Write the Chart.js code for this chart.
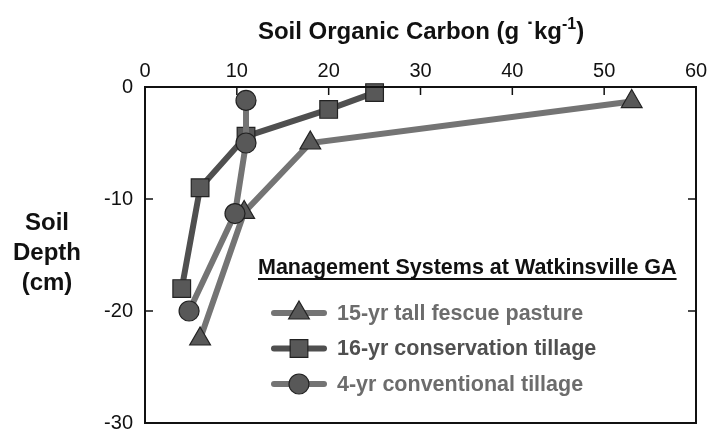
<!DOCTYPE html>
<html lang="en">
<head>
  <meta charset="UTF-8">
  <script src="https://cdn.jsdelivr.net/npm/chart.js"></script>
  <title>Soil Organic Carbon</title>
  <style>
    body {
      margin: 0;
      padding: 0;
      background: #fff;
      overflow: hidden;
    }
    .chart-box {
      width: 709px;
      height: 430px;
    }
  </style>
</head>
<body>
  <div class="chart-box">
    <canvas id="socChart" width="709" height="430"></canvas>
  </div>

  <script>
    // values (soil organic carbon g/kg vs depth cm)
    const pastureSOC = [53, 18, 10.8, 6];
    const pastureDepth = [-1.3, -5, -11.2, -22.5];
    const consSOC = [25, 20, 11, 6, 4];
    const consDepth = [-0.5, -2, -4.4, -9, -18];
    const convSOC = [11, 11, 9.8, 4.8];
    const convDepth = [-1.2, -5, -11.3, -20];

    const seriesNames = ['15-yr tall fescue pasture', '16-yr conservation tillage', '4-yr conventional tillage'];
    const xTicks = [0, 10, 20, 30, 40, 50, 60];
    const yTicks = [0, -10, -20, -30];

    const FONT = "'Liberation Sans', Arial, sans-serif";
    Chart.defaults.font.family = FONT;
    Chart.defaults.color = '#111';

    function toPoints(xs, ys) {
      return xs.map((x, i) => ({ x: x, y: ys[i] }));
    }

    // frame, inward tick marks, titles and legend
    const decorPlugin = {
      id: 'decor',
      afterDraw(chart) {
        const ctx = chart.ctx;
        const a = chart.chartArea;
        const xs = chart.scales.x;
        const ys = chart.scales.y;
        ctx.save();

        // box
        ctx.strokeStyle = '#111';
        ctx.lineWidth = 2;
        ctx.strokeRect(a.left, a.top, a.right - a.left, a.bottom - a.top);

        // ticks pointing in
        ctx.lineWidth = 1.5;
        ctx.beginPath();
        xTicks.slice(1, -1).forEach(v => {
          const px = xs.getPixelForValue(v);
          ctx.moveTo(px, a.top);
          ctx.lineTo(px, a.top + 8);
        });
        yTicks.slice(1, -1).forEach(v => {
          const py = ys.getPixelForValue(v);
          ctx.moveTo(a.left, py);
          ctx.lineTo(a.left + 8, py);
          ctx.moveTo(a.right, py);
          ctx.lineTo(a.right - 8, py);
        });
        ctx.stroke();

        // top title with superscript
        ctx.fillStyle = '#111';
        ctx.textBaseline = 'alphabetic';
        ctx.textAlign = 'left';
        const big = 'bold 24px ' + FONT;
        const small = 'bold 16px ' + FONT;
        const parts = [
          { t: 'Soil Organic Carbon (g', f: big, dy: 0 },
          { t: ' \u02D9', f: big, dy: 0 },
          { t: 'kg', f: big, dy: 0 },
          { t: '-1', f: small, dy: -10 },
          { t: ')', f: big, dy: 0 }
        ];
        let total = 0;
        parts.forEach(p => { ctx.font = p.f; p.w = ctx.measureText(p.t).width; total += p.w; });
        let tx = 421 - total / 2;
        parts.forEach(p => {
          ctx.font = p.f;
          ctx.fillText(p.t, tx, 39 + p.dy);
          tx += p.w;
        });

        // y title
        ctx.font = 'bold 24px ' + FONT;
        ctx.textAlign = 'center';
        ctx.textBaseline = 'middle';
        ['Soil', 'Depth', '(cm)'].forEach((s, i) => ctx.fillText(s, 47, 223 + i * 30));

        // legend
        ctx.textAlign = 'left';
        ctx.textBaseline = 'alphabetic';
        ctx.font = 'bold 21.5px ' + FONT;
        const head = 'Management Systems at Watkinsville GA';
        const hw = ctx.measureText(head).width;
        ctx.fillText(head, 258, 274);
        ctx.fillRect(258, 278, hw, 2);

        ctx.textBaseline = 'middle';
        chart.data.datasets.forEach((ds, i) => {
          const ly = 313 + i * 35.5;
          ctx.strokeStyle = ds.borderColor;
          ctx.lineWidth = 6;
          ctx.lineCap = 'round';
          ctx.beginPath();
          ctx.moveTo(274, ly);
          ctx.lineTo(324, ly);
          ctx.stroke();
          ctx.fillStyle = ds.pointBackgroundColor;
          ctx.strokeStyle = ds.pointBorderColor;
          ctx.lineWidth = ds.pointBorderWidth;
          Chart.helpers.drawPoint(ctx, {
            pointStyle: ds.pointStyle,
            radius: ds.pointRadius,
            borderWidth: ds.pointBorderWidth,
            rotation: 0
          }, 299, ly);
          ctx.fillStyle = ds.legendColor;
          ctx.font = 'bold 21.5px ' + FONT;
          ctx.fillText(seriesNames[i], 337, ly + 1);
        });

        ctx.restore();
      }
    };

    function series(i, pts, style, lineColor, textColor, order) {
      let r = 10;
      if (style === 'rect') r = 12.5;
      if (style === 'triangle') r = 12;
      return {
        label: seriesNames[i],
        data: pts,
        order: order,
        showLine: true,
        clip: false,
        borderColor: lineColor,
        borderWidth: 6,
        pointStyle: style,
        pointRadius: r,
        pointBackgroundColor: '#585858',
        pointBorderColor: '#222',
        pointBorderWidth: 1.2,
        legendColor: textColor,
        tension: 0
      };
    }

    const ctx = document.getElementById('socChart').getContext('2d');
    new Chart(ctx, {
      type: 'scatter',
      data: {
        datasets: [
          series(0, toPoints(pastureSOC, pastureDepth), 'triangle', '#747474', '#6c6c6c', 1),
          series(1, toPoints(consSOC, consDepth), 'rect', '#4f4f4f', '#505050', 2),
          series(2, toPoints(convSOC, convDepth), 'circle', '#747474', '#6c6c6c', 0)
        ]
      },
      options: {
        responsive: false,
        animation: false,
        layout: { autoPadding: false, padding: { left: 0, right: 13, top: 0, bottom: 7 } },
        plugins: {
          legend: { display: false },
          title: { display: false },
          tooltip: { enabled: false }
        },
        scales: {
          x: {
            type: 'linear',
            position: 'top',
            min: 0,
            max: 60,
            afterBuildTicks: s => { s.ticks = xTicks.map(v => ({ value: v })); },
            afterFit: s => {
              s.height = 87;
              s.paddingLeft = 0;
              s.paddingRight = 0;
            },
            grid: { display: false, drawTicks: false },
            border: { display: false },
            ticks: { font: { size: 20 }, padding: 4, color: '#111' }
          },
          y: {
            type: 'linear',
            min: -30,
            max: 0,
            afterBuildTicks: s => { s.ticks = yTicks.map(v => ({ value: v })); },
            afterFit: s => {
              s.width = 145;
              s.paddingTop = 0;
              s.paddingBottom = 0;
            },
            grid: { display: false, drawTicks: false },
            border: { display: false },
            ticks: { font: { size: 20 }, padding: 12, color: '#111' }
          }
        }
      },
      plugins: [decorPlugin]
    });
  </script>
</body>
</html>
